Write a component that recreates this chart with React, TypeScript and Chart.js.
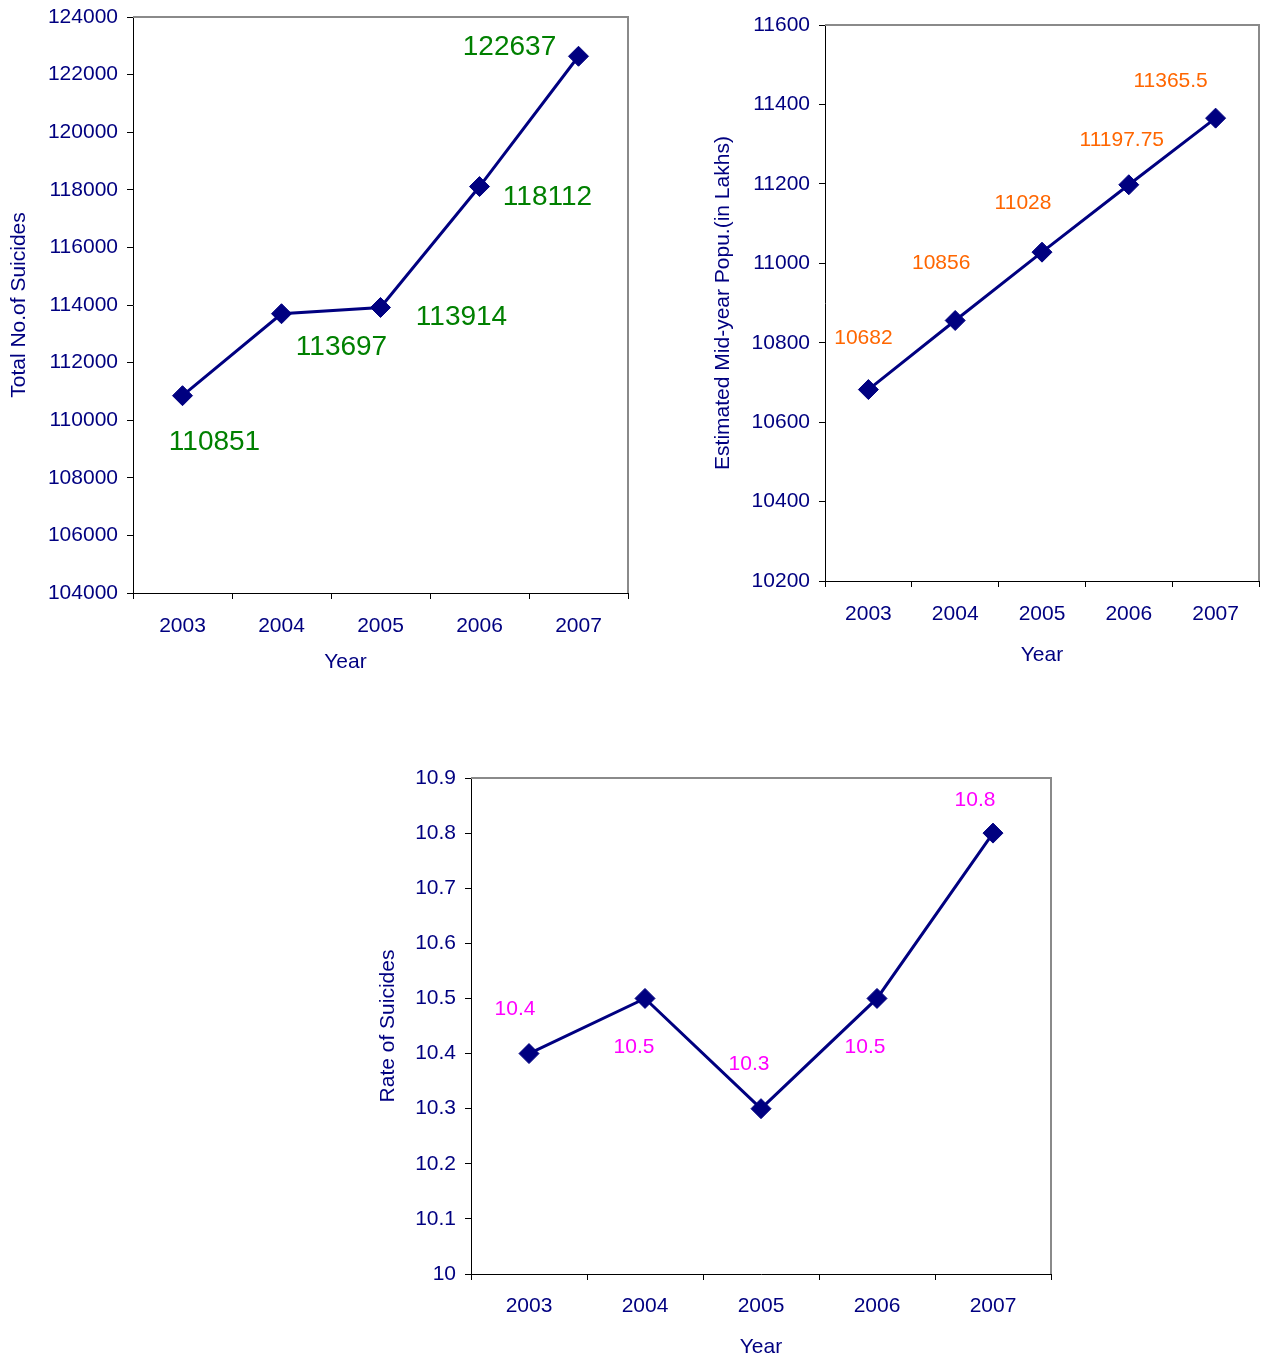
import React, { useEffect, useRef } from "react";
import { Chart, registerables } from "chart.js";

Chart.register(...registerables);

const years = ["2003", "2004", "2005", "2006", "2007"];
const suicides = [110851, 113697, 113914, 118112, 122637];
const population = [10682, 10856, 11028, 11197.75, 11365.5];
const rates = [10.4, 10.5, 10.3, 10.5, 10.8];

const suicideTicks = { min: 104000, max: 124000, step: 2000 };
const populationTicks = { min: 10200, max: 11600, step: 200 };
const rateTicks = { min: 10, max: 10.9, step: 0.1 };

const FONT = 'Arial, "Liberation Sans", sans-serif';
const NAVY = "#000080";

const framePlugin = {
  id: "frame",
  beforeDatasetsDraw(chart: any) {
    const { ctx, chartArea } = chart;
    ctx.save();
    ctx.strokeStyle = "#8a8a8a";
    ctx.lineWidth = 2;
    ctx.beginPath();
    ctx.moveTo(chartArea.left, chartArea.top);
    ctx.lineTo(chartArea.right, chartArea.top);
    ctx.lineTo(chartArea.right, chartArea.bottom);
    ctx.stroke();
    ctx.restore();
  },
};

const pointLabelPlugin = {
  id: "pointLabels",
  afterDatasetsDraw(chart: any, _args: any, opts: any) {
    const { ctx, chartArea } = chart;
    const meta = chart.getDatasetMeta(0);
    const data = chart.data.datasets[0].data as number[];
    ctx.save();
    ctx.fillStyle = opts.color;
    ctx.font = `${opts.size}px ${FONT}`;
    ctx.textAlign = "center";
    ctx.textBaseline = "middle";
    meta.data.forEach((pt: any, i: number) => {
      const [dx, dy] = opts.offsets[i];
      ctx.fillText(String(data[i]), pt.x + dx, pt.y + dy + 2);
    });
    // x axis title
    ctx.fillStyle = NAVY;
    ctx.font = `21px ${FONT}`;
    ctx.fillText(
      opts.xTitle,
      (chartArea.left + chartArea.right) / 2 + opts.xTitleShift,
      chartArea.bottom + opts.xTitleDrop
    );
    ctx.restore();
  },
};

type Props = {
  left: number;
  top: number;
  width: number;
  height: number;
  values: number[];
  yTitle: string;
  ticks: { min: number; max: number; step: number };
  decimals: number;
  pad: { top: number; right: number };
  yWidth: number;
  xHeight: number;
  yTitlePad: number;
  xTickPad: number;
  xTitleShift: number;
  xTitleDrop: number;
  labelColor: string;
  labelSize: number;
  labelOffsets: number[][];
};

function LineBox(p: Props) {
  const ref = useRef<HTMLCanvasElement | null>(null);
  useEffect(() => {
    if (!ref.current) return;
    const chart = new Chart(ref.current, {
      type: "line",
      data: {
        labels: years,
        datasets: [
          {
            data: p.values,
            borderColor: NAVY,
            backgroundColor: NAVY,
            borderWidth: 3,
            pointStyle: "rectRot",
            pointRadius: 10,
            pointBorderWidth: 1,
            pointBackgroundColor: NAVY,
            pointBorderColor: NAVY,
            tension: 0,
          },
        ],
      },
      options: {
        responsive: false,
        animation: false,
        layout: {
          autoPadding: false,
          padding: { left: 0, top: p.pad.top, right: p.pad.right, bottom: 0 },
        },
        plugins: {
          legend: { display: false },
          tooltip: { enabled: false },
          pointLabels: {
            color: p.labelColor,
            size: p.labelSize,
            offsets: p.labelOffsets,
            xTitle: "Year",
            xTitleShift: p.xTitleShift,
            xTitleDrop: p.xTitleDrop,
          },
        } as any,
        scales: {
          x: {
            type: "category",
            offset: true,
            grid: { offset: true, drawOnChartArea: false, drawTicks: true, tickLength: 6, color: "#000" },
            border: { color: "#000", width: 1 },
            ticks: { color: NAVY, font: { family: FONT, size: 21 }, padding: p.xTickPad, maxRotation: 0 },
            title: { display: false },
            afterFit: (s: any) => {
              s.height = p.xHeight;
              s.paddingLeft = 0;
              s.paddingRight = 0;
            },
          },
          y: {
            min: p.ticks.min,
            max: p.ticks.max,
            grid: { drawOnChartArea: false, drawTicks: true, tickLength: 6, color: "#000" },
            border: { color: "#000", width: 1 },
            ticks: {
              stepSize: p.ticks.step,
              color: NAVY,
              font: { family: FONT, size: 21 },
              padding: 9,
              callback: (v: any) => String(Number(Number(v).toFixed(p.decimals))),
            },
            title: {
              display: true,
              text: p.yTitle,
              color: NAVY,
              font: { family: FONT, size: 21 },
              padding: { top: p.yTitlePad, bottom: 0 },
            },
            afterFit: (s: any) => {
              s.width = p.yWidth;
              s.paddingTop = 0;
              s.paddingBottom = 0;
            },
          },
        },
      },
      plugins: [framePlugin, pointLabelPlugin],
    } as any);
    return () => chart.destroy();
  }, []);
  return (
    <canvas
      ref={ref}
      width={p.width}
      height={p.height}
      style={{ position: "absolute", left: p.left, top: p.top, width: p.width, height: p.height }}
    />
  );
}

export default function App() {
  return (
    <div
      style={{
        position: "absolute",
        left: 0,
        top: 0,
        width: 1265,
        height: 1359,
        overflow: "hidden",
        background: "#fff",
      }}
    >
      <LineBox
        left={0}
        top={0}
        width={640}
        height={690}
        values={suicides}
        yTitle="Total No.of Suicides"
        ticks={suicideTicks}
        decimals={0}
        pad={{ top: 17, right: 12 }}
        yWidth={133}
        xHeight={97}
        yTitlePad={7}
        xTickPad={15}
        xTitleShift={-35}
        xTitleDrop={69}
        labelColor="#008000"
        labelSize={28}
        labelOffsets={[[32, 45], [60, 32], [81, 8], [68, 9], [-69, -11]]}
      />
      <LineBox
        left={700}
        top={0}
        width={565}
        height={680}
        values={population}
        yTitle="Estimated Mid-year Popu.(in Lakhs)"
        ticks={populationTicks}
        decimals={0}
        pad={{ top: 25, right: 6 }}
        yWidth={125}
        xHeight={99}
        yTitlePad={11}
        xTickPad={15}
        xTitleShift={0}
        xTitleDrop={74}
        labelColor="#FF6600"
        labelSize={21}
        labelOffsets={[[-5, -53], [-14, -59], [-19, -51], [-7, -47], [-45, -39]]}
      />
      <LineBox
        left={360}
        top={740}
        width={720}
        height={619}
        values={rates}
        yTitle="Rate of Suicides"
        ticks={rateTicks}
        decimals={1}
        pad={{ top: 38, right: 29 }}
        yWidth={111}
        xHeight={85}
        yTitlePad={16}
        xTickPad={14}
        xTitleShift={0}
        xTitleDrop={73}
        labelColor="#FF00FF"
        labelSize={21}
        labelOffsets={[[-14, -46], [-11, 47], [-12, -46], [-12, 47], [-18, -35]]}
      />
    </div>
  );
}
